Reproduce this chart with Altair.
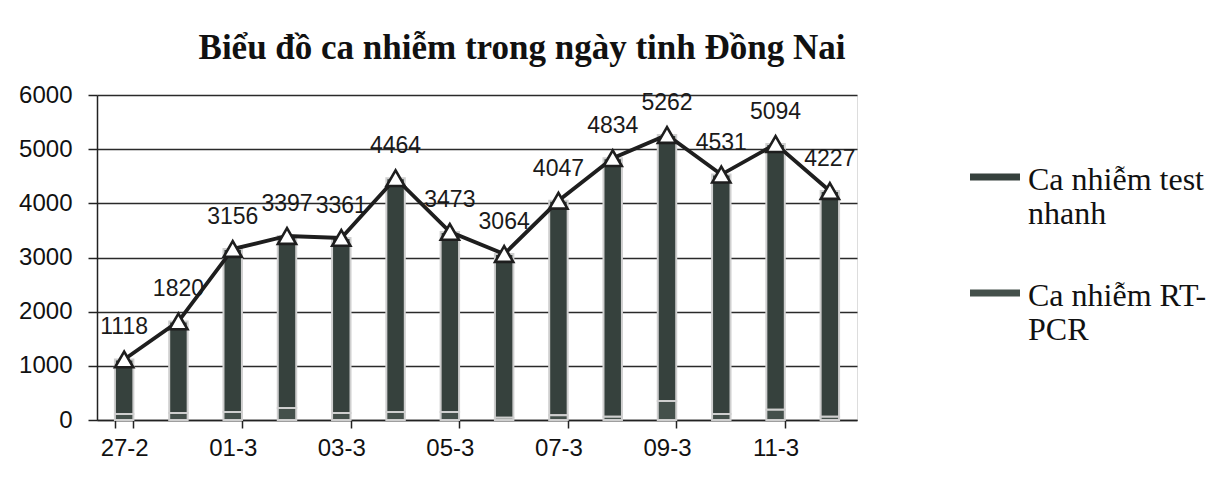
import altair as alt
import pandas as pd

dates = ["27-2", "28-2", "01-3", "02-3", "03-3", "04-3", "05-3", "06-3",
         "07-3", "08-3", "09-3", "10-3", "11-3", "12-3"]
totals = [1118, 1820, 3156, 3397, 3361, 4464, 3473, 3064, 4047, 4834, 5262, 4531, 5094, 4227]
rt_pcr = [110, 130, 150, 220, 130, 150, 150, 40, 90, 60, 350, 110, 190, 60]
test_nhanh = [1008, 1690, 3006, 3177, 3231, 4314, 3323, 3024, 3957, 4774, 4912, 4421, 4904, 4167]
series_names = ["Ca nhiễm test nhanh", "Ca nhiễm RT-PCR"]
series_colors = ["#36413d", "#44504b"]
y_ticks = [0, 1000, 2000, 3000, 4000, 5000, 6000]
x_label_dates = dates[::2]
title_text = "Biểu đồ ca nhiễm trong ngày tinh Đồng Nai"

rows = []
for d, t, r in zip(dates, test_nhanh, rt_pcr):
    rows.append({"date": d, "series": series_names[0], "value": t, "ord": 1})
    rows.append({"date": d, "series": series_names[1], "value": r, "ord": 0})
bars_df = pd.DataFrame(rows)
line_df = pd.DataFrame({"date": dates, "total": totals})

x_enc = alt.X("date:N", sort=dates, title=None,
              scale=alt.Scale(paddingInner=0.66, paddingOuter=0.33),
              axis=alt.Axis(values=x_label_dates, labelAngle=0, tickBand="extent",
                            labelFont="Liberation Sans", labelFontSize=24, labelColor="#111",
                            labelPadding=8, tickSize=8, tickColor="#222", tickWidth=1.5,
                            domainColor="#222", domainWidth=1.5, grid=False))
y_scale = alt.Scale(domain=[0, 6000])

bars = alt.Chart(bars_df).mark_bar(stroke="#cfcfcf", strokeWidth=2).encode(
    x=x_enc,
    y=alt.Y("sum(value):Q", scale=y_scale, title=None,
            axis=alt.Axis(values=y_ticks, format="d", labelFont="Liberation Sans",
                          labelFontSize=24, labelColor="#111", labelPadding=16, tickSize=9,
                          tickColor="#222", tickWidth=1.5, domainColor="#222",
                          domainWidth=1.5, grid=True, gridColor="#2a2a2a", gridWidth=1.5)),
    color=alt.Color("series:N",
                    scale=alt.Scale(domain=series_names, range=series_colors),
                    legend=alt.Legend(
                        title=None, orient="none", legendX=873, legendY=45,
                        symbolType="M-1,0.34L1,0.34L1,0.62L-1,0.62Z", symbolSize=2500,
                        symbolStrokeWidth=0, labelFont="Liberation Serif",
                        labelFontSize=32, labelColor="#111", labelBaseline="top",
                        labelOffset=8, rowPadding=26,
                        labelLimit=400,
                        labelExpr="datum.label == 'Ca nhiễm test nhanh' ? ['Ca nhiễm test', 'nhanh'] : ['Ca nhiễm RT-', 'PCR']")),
    order=alt.Order("ord:Q"),
)

line = alt.Chart(line_df).mark_line(color="#1e1e1e", strokeWidth=3.8).encode(
    x=alt.X("date:N", sort=dates),
    y=alt.Y("total:Q", scale=y_scale),
)
points = alt.Chart(line_df).mark_point(shape="triangle-up", size=330, filled=True,
                                       fill="white", stroke="#1e1e1e", strokeWidth=2.6,
                                       opacity=1).encode(
    x=alt.X("date:N", sort=dates),
    y=alt.Y("total:Q", scale=y_scale),
)
labels = alt.Chart(line_df).mark_text(font="Liberation Sans", fontSize=23, color="#1a1a1a",
                                      dy=-32, baseline="middle").encode(
    x=alt.X("date:N", sort=dates),
    y=alt.Y("total:Q", scale=y_scale),
    text=alt.Text("total:Q", format="d"),
)
title = alt.Chart(pd.DataFrame({"t": [title_text]})).mark_text(
    font="Liberation Serif", fontSize=35, fontWeight="bold", color="#111",
    align="center", baseline="alphabetic").encode(
    text="t:N", x=alt.value(425), y=alt.value(-36))

chart = alt.layer(bars, line, points, labels, title).properties(
    width=760, height=325,
    autosize=alt.AutoSizeParams(type="none"),
    padding={"left": 89, "top": 87, "right": 350, "bottom": 50},
).configure_view(stroke=None).configure(background="white")

chart.save("out.html", embed_options={"renderer": "svg", "actions": False})
